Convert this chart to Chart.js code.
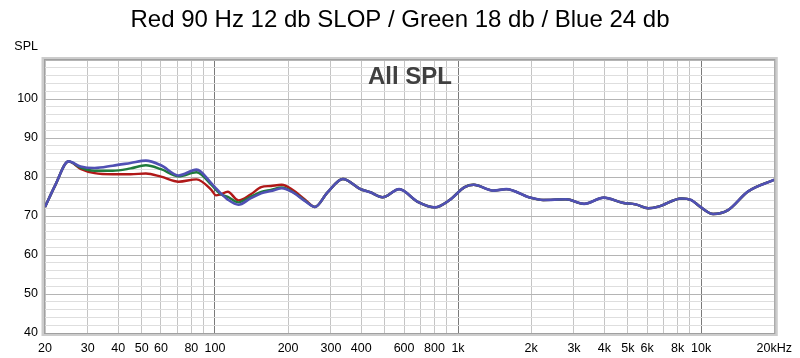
<!DOCTYPE html>
<html>
<head>
<meta charset="utf-8">
<script src="https://cdn.jsdelivr.net/npm/chart.js@4.4.1/dist/chart.umd.min.js"></script>
<style>
  html, body { margin: 0; padding: 0; background: #ffffff; }
  #wrap { width: 800px; height: 358px; position: relative; }
</style>
</head>
<body>
<div id="wrap"><canvas id="c" width="800" height="358"></canvas></div>
<script>
// ---- data ----
const freqs = [20, 22, 25, 28, 32, 38, 45, 52, 60, 71, 84, 97, 101, 105, 113, 125, 140, 155, 170, 188, 210, 235, 258, 290, 336, 397, 435, 489, 573, 680, 802, 924, 1065, 1160, 1400, 1580, 1960, 2240, 2780, 3300, 3980, 4750, 5370, 6060, 6660, 8300, 9100, 9900, 11200, 12900, 15600, 20000];
const blueSPL = [72.3, 77.8, 84.0, 82.7, 82.3, 82.9, 83.6, 84.2, 83.0, 80.4, 81.9, 78.3, 77.1, 76.0, 74.2, 72.9, 74.5, 75.8, 76.4, 77.1, 76.0, 73.8, 72.3, 76.0, 79.5, 76.9, 76.1, 74.8, 76.9, 73.7, 72.2, 74.1, 77.4, 78.0, 76.5, 76.9, 74.8, 74.1, 74.3, 73.1, 74.7, 73.4, 73.0, 72.0, 72.4, 74.5, 74.1, 72.4, 70.5, 71.5, 76.3, 79.3];
const greenSPL = [72.3, 77.8, 84.0, 82.4, 81.6, 81.6, 82.2, 83.0, 82.0, 80.2, 81.2, 77.9, 76.7, 75.7, 74.9, 73.5, 74.9, 76.2, 76.7, 77.3, 76.1, 73.9, 72.3, 76.0, 79.5, 76.9, 76.1, 74.8, 76.9, 73.7, 72.2, 74.1, 77.4, 78.0, 76.5, 76.9, 74.8, 74.1, 74.3, 73.1, 74.7, 73.4, 73.0, 72.0, 72.4, 74.5, 74.1, 72.4, 70.5, 71.5, 76.3, 79.3];
const redSPL = [72.3, 77.8, 84.0, 82.1, 81.0, 80.7, 80.7, 80.9, 80.1, 78.8, 79.4, 76.6, 75.3, 75.5, 76.2, 74.0, 75.5, 77.4, 77.7, 78.0, 76.6, 74.2, 72.3, 76.0, 79.5, 76.9, 76.1, 74.8, 76.9, 73.7, 72.2, 74.1, 77.4, 78.0, 76.5, 76.9, 74.8, 74.1, 74.3, 73.1, 74.7, 73.4, 73.0, 72.0, 72.4, 74.5, 74.1, 72.4, 70.5, 71.5, 76.3, 79.3];
const xGridFreqs = [20, 30, 40, 50, 60, 70, 80, 90, 100, 200, 300, 400, 500, 600, 700, 800, 900, 1000, 2000, 3000, 4000, 5000, 6000, 7000, 8000, 9000, 10000, 20000];
const xTickLabels = {20:'20', 30:'30', 40:'40', 50:'50', 60:'60', 80:'80', 100:'100', 200:'200', 300:'300', 400:'400', 600:'600', 800:'800', 1000:'1k', 2000:'2k', 3000:'3k', 4000:'4k', 5000:'5k', 6000:'6k', 8000:'8k', 10000:'10k', 20000:'20kHz'};
const yLabels = [40, 50, 60, 70, 80, 90, 100];
const titleText = 'Red 90 Hz 12 db SLOP / Green 18 db / Blue 24 db';
const innerText = 'All SPL';
const yAxisName = 'SPL';

const toPts = arr => freqs.map((f, i) => ({x: f, y: arr[i]}));
const FONT = "'Liberation Sans', Arial, sans-serif";

const decor = {
  id: 'decor',
  afterDraw(chart) {
    const {ctx, chartArea: a} = chart;
    ctx.save();
    // frame
    ctx.strokeStyle = '#cccccc';
    ctx.lineWidth = 3;
    ctx.strokeRect(a.left - 2, a.top - 1.5, a.right - a.left + 4, a.bottom - a.top + 3);
    ctx.strokeStyle = '#a0a0a0';
    ctx.lineWidth = 1;
    ctx.strokeRect(a.left - 0.5, a.top - 0.5, a.right - a.left + 1, a.bottom - a.top + 1);
    // texts
    ctx.fillStyle = '#000';
    ctx.font = '24px ' + FONT;
    ctx.textAlign = 'center';
    ctx.textBaseline = 'middle';
    ctx.fillText(titleText, 400, 20);
    ctx.font = '12.5px ' + FONT;
    ctx.textAlign = 'right';
    ctx.fillText(yAxisName, 38, 47);
    ctx.fillStyle = '#404040';
    ctx.font = 'bold 24px ' + FONT;
    ctx.textAlign = 'center';
    ctx.textBaseline = 'alphabetic';
    ctx.fillText(innerText, 410, 84);
    ctx.restore();
  }
};

new Chart(document.getElementById('c'), {
  type: 'line',
  data: {
    datasets: [
      {label: 'Blue 24 db', data: toPts(blueSPL), borderColor: '#5050b4', borderWidth: 2.6},
      {label: 'Green 18 db', data: toPts(greenSPL), borderColor: '#1f7a3c', borderWidth: 2.4},
      {label: 'Red 12 db', data: toPts(redSPL), borderColor: '#b01818', borderWidth: 2.4}
    ]
  },
  options: {
    responsive: false,
    animation: false,
    devicePixelRatio: 1,
    layout: {padding: {top: 60, right: 22, bottom: 0, left: 0}},
    elements: {point: {radius: 0}, line: {cubicInterpolationMode: 'monotone', fill: false}},
    plugins: {legend: {display: false}, tooltip: {enabled: false}, title: {display: false}},
    scales: {
      x: {
        type: 'logarithmic',
        min: 20, max: 20000,
        afterBuildTicks: s => { s.ticks = xGridFreqs.map(v => ({value: v})); },
        afterFit: s => { s.height = 25; },
        border: {display: false},
        grid: {
          drawTicks: false,
          lineWidth: 1,
          color: c => ([100, 1000, 10000].includes(c.tick && c.tick.value) ? '#7a7a7a' : '#c4c4c4')
        },
        ticks: {
          autoSkip: false, maxRotation: 0, padding: 8, color: '#000',
          font: {family: FONT, size: 12.5},
          callback: v => xTickLabels[v] || ''
        }
      },
      y: {
        min: 40, max: 110,
        afterBuildTicks: s => { const t = []; for (let v = 40; v <= 110; v += 2) t.push({value: v}); s.ticks = t; },
        afterFit: s => { s.width = 45; },
        border: {display: false},
        grid: {
          drawTicks: false,
          lineWidth: 1,
          color: c => (c.tick && c.tick.value % 10 === 0 ? '#b4b4b4' : '#dedede')
        },
        ticks: {
          autoSkip: false, padding: 7, color: '#000',
          font: {family: FONT, size: 12.5},
          callback: v => (yLabels.includes(v) ? String(v) : '')
        }
      }
    }
  },
  plugins: [decor]
});
</script>
</body>
</html>
